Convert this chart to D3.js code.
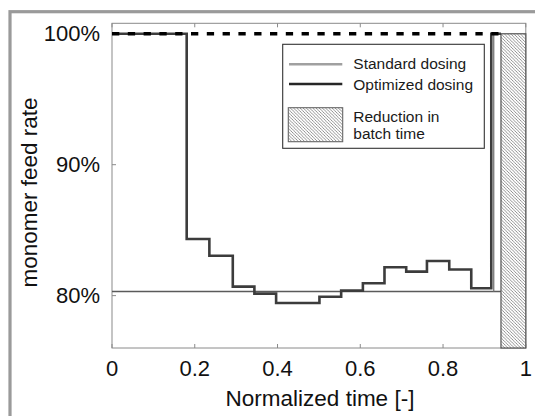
<!DOCTYPE html>
<html>
<head>
<meta charset="utf-8">
<script src="https://cdn.jsdelivr.net/npm/d3@7/dist/d3.min.js"></script>
<style>
  html, body { margin: 0; padding: 0; background: #fff; }
  svg { display: block; font-family: "Liberation Sans", Arial, Helvetica, sans-serif; }
</style>
</head>
<body>
<svg id="chart" width="535" height="416"></svg>
<script>
// ---- data ----
const optTime = [0, 0.1805, 0.2353, 0.2919, 0.3441, 0.3966, 0.4486, 0.5013, 0.5538, 0.6063, 0.6585, 0.7110, 0.7611, 0.8150, 0.8682, 0.9166, 0.94];
const optRate = [100, 84.33, 83.05, 80.69, 80.15, 79.44, 79.44, 79.92, 80.38, 80.95, 82.17, 81.83, 82.65, 82.0, 80.56, 100, 100];
const standardRate = [100, 100];
const standardTime = [0, 0.94];
const baselineRate = 80.31;
const baselineEnd = 0.94;
const markerTime = 0.9225;
const reductionStart = 0.94;
const reductionEnd = 1.0;
const xTicks = [0, 0.2, 0.4, 0.6, 0.8, 1];
const xTickLabels = ["0", "0.2", "0.4", "0.6", "0.8", "1"];
const yTicks = [80, 90, 100];
const yTickLabels = ["80%", "90%", "100%"];
const legendLabels = ["Standard dosing", "Optimized dosing", ["Reduction in", "batch time"]];

const svg = d3.select("#chart");
const L = 112, R = 525.8, T = 23.3, B = 348;
const x = d3.scaleLinear().domain([0, 1]).range([L, R]);
const y = d3.scaleLinear().domain([76, 100.8]).range([B, T]);

// outer frame
svg.append("rect").attr("x", 10).attr("y", 11.7).attr("width", 600).attr("height", 500)
  .attr("fill", "none").attr("stroke", "#9a9a9a").attr("stroke-width", 3.2);

// hatch pattern
const defs = svg.append("defs");
const pat = defs.append("pattern").attr("id", "hatch").attr("patternUnits", "userSpaceOnUse")
  .attr("width", 3.2).attr("height", 3.2);
pat.append("rect").attr("width", 3.2).attr("height", 3.2).attr("fill", "#fff");
pat.append("path").attr("d", "M0,0L3.2,3.2M-1,2.2L1,4.2M2.2,-1L4.2,1")
  .attr("stroke", "#777").attr("stroke-width", 0.8);

// plot box
svg.append("rect").attr("x", L).attr("y", T).attr("width", R - L).attr("height", B - T)
  .attr("fill", "#fff").attr("stroke", "#8a8a8a").attr("stroke-width", 1);

// ticks (inward, bottom & top, left)
const g = svg.append("g");
xTicks.forEach(t => {
  g.append("line").attr("x1", x(t)).attr("x2", x(t)).attr("y1", B).attr("y2", B - 4).attr("stroke", "#8a8a8a");
  g.append("line").attr("x1", x(t)).attr("x2", x(t)).attr("y1", T).attr("y2", T + 4).attr("stroke", "#8a8a8a");
});
yTicks.forEach(v => {
  g.append("line").attr("x1", L).attr("x2", L + 4).attr("y1", y(v)).attr("y2", y(v)).attr("stroke", "#8a8a8a");
});

// reduction rect
svg.append("rect").attr("x", x(reductionStart)).attr("y", y(100))
  .attr("width", x(reductionEnd) - x(reductionStart)).attr("height", B - y(100))
  .attr("fill", "url(#hatch)").attr("stroke", "#555").attr("stroke-width", 1.2);

// baseline (thin gray)
svg.append("line").attr("x1", x(0)).attr("x2", x(baselineEnd)).attr("y1", y(baselineRate)).attr("y2", y(baselineRate))
  .attr("stroke", "#5a5a5a").attr("stroke-width", 1.6);
svg.append("line").attr("x1", x(markerTime)).attr("x2", x(markerTime)).attr("y1", y(100)).attr("y2", y(baselineRate))
  .attr("stroke", "#777").attr("stroke-width", 1.3);

// optimized step line
const optLine = d3.line().x(d => x(d[0])).y(d => y(d[1])).curve(d3.curveStepAfter);
svg.append("path").datum(optTime.map((t, i) => [t, optRate[i]]))
  .attr("d", optLine).attr("fill", "none").attr("stroke", "#3c3c3c").attr("stroke-width", 2.6);

// dashed standard (100%) line
svg.append("path").datum(standardTime.map((t, i) => [t, standardRate[i]]))
  .attr("d", d3.line().x(d => x(d[0])).y(d => y(d[1])))
  .attr("fill", "none").attr("stroke", "#000").attr("stroke-width", 3.4).attr("stroke-dasharray", "7.3,8.5");

// tick labels
xTicks.forEach((t, i) => {
  svg.append("text").attr("x", x(t)).attr("y", 376).attr("text-anchor", "middle")
    .attr("font-size", 22).attr("fill", "#111").text(xTickLabels[i]);
});
yTicks.forEach((v, i) => {
  svg.append("text").attr("x", 100).attr("y", y(v) + 7.5).attr("text-anchor", "end")
    .attr("font-size", 22).attr("fill", "#111").text(yTickLabels[i]);
});

// axis labels
svg.append("text").attr("x", 320).attr("y", 406).attr("text-anchor", "middle")
  .attr("font-size", 22.5).attr("fill", "#111").text("Normalized time [-]");
svg.append("text").attr("transform", "translate(37,192.5) rotate(-90)").attr("text-anchor", "middle")
  .attr("font-size", 22.5).attr("fill", "#111").text("monomer feed rate");

// legend
const lg = svg.append("g");
lg.append("rect").attr("x", 282.7).attr("y", 44.3).attr("width", 201.6).attr("height", 104)
  .attr("fill", "#fff").attr("stroke", "#333").attr("stroke-width", 1.1);
lg.append("line").attr("x1", 289).attr("x2", 342.3).attr("y1", 64.3).attr("y2", 64.3)
  .attr("stroke", "#a0a0a0").attr("stroke-width", 2.6);
lg.append("line").attr("x1", 289).attr("x2", 342.3).attr("y1", 84).attr("y2", 84)
  .attr("stroke", "#262626").attr("stroke-width", 2.6);
lg.append("rect").attr("x", 288.3).attr("y", 107.7).attr("width", 54.4).attr("height", 34)
  .attr("fill", "url(#hatch)").attr("stroke", "#666").attr("stroke-width", 1.1);
const lt = [[legendLabels[0], 68.8], [legendLabels[1], 90.3], [legendLabels[2][0], 121.8], [legendLabels[2][1], 138.6]];
lt.forEach(([s, yy]) => {
  lg.append("text").attr("x", 353.3).attr("y", yy).attr("font-size", 15.5).attr("fill", "#1a1a1a").text(s);
});
</script>
</body>
</html>
